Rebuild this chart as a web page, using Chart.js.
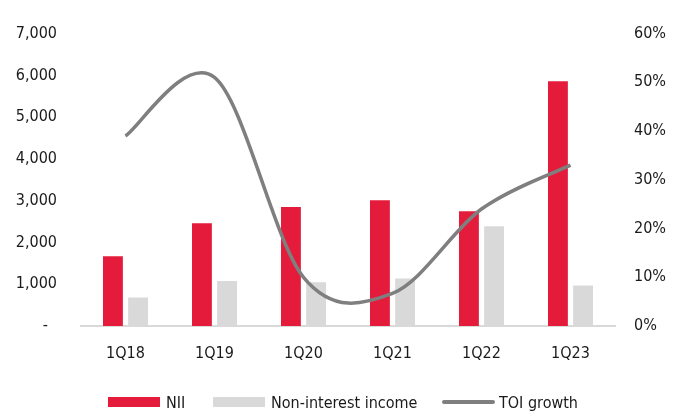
<!DOCTYPE html>
<html>
<head>
<meta charset="utf-8">
<script src="https://cdn.jsdelivr.net/npm/chart.js@4"></script>
<style>
  body { margin: 0; background: #fff; }
  #wrap { position: relative; width: 681px; height: 411px; }
  #legend { position: absolute; left: 0; top: 392px; width: 681px; height: 20px;
            font-family: 'DejaVu Sans Condensed', 'Liberation Sans Narrow', sans-serif; font-size: 16px; color: #1a1a1a; }
  .item { position: absolute; top: 0; height: 20px; display: flex; align-items: center; white-space: nowrap; }
  .box { width: 52px; height: 10px; }
  .ln { width: 53px; height: 4px; border-radius: 2px; }
  .txt { margin-left: 6px; }
</style>
</head>
<body>
<div id="wrap">
  <canvas id="c" width="681" height="411"></canvas>
  <div id="legend"></div>
</div>
<script>
// data
const quarters = ['1Q18', '1Q19', '1Q20', '1Q21', '1Q22', '1Q23'];
const nii = [1670, 2460, 2850, 3010, 2750, 5860];
const nonInterest = [680, 1080, 1050, 1140, 2390, 970];
const toiGrowth = [39, 51, 10, 6.7, 24, 33];

const FONT = "'DejaVu Sans Condensed', 'Liberation Sans Narrow', sans-serif";
const RED = '#e41b3a';
const LIGHT = '#d9d9d9';
const LINE = '#7f7f7f';

Chart.defaults.font.family = FONT;
Chart.defaults.font.size = 16;
Chart.defaults.color = '#1a1a1a';

// spreadsheet-style smoothing: uniform catmull-rom control points
// (chart.js weights tangents by distance, which kinks on steep drops)
const smoothPlugin = {
    id: 'smoothLine',
    beforeDatasetDraw(chart, args) {
        const meta = args.meta;
        if (meta.type !== 'line' || !meta.dataset) return;
        meta.dataset.updateControlPoints(chart.chartArea, 'x');
        const pts = meta.data;
        pts.forEach((p, i) => {
            const prev = pts[Math.max(i - 1, 0)];
            const next = pts[Math.min(i + 1, pts.length - 1)];
            const tx = (next.x - prev.x) / 6;
            const ty = (next.y - prev.y) / 6;
            p.cp1x = p.x - tx; p.cp1y = p.y - ty;
            p.cp2x = p.x + tx; p.cp2y = p.y + ty;
        });
        meta.dataset._path = undefined;
    }
};

const chart = new Chart(document.getElementById('c').getContext('2d'), {
    type: 'bar',
    data: {
        labels: quarters,
        datasets: [
            { type: 'line', label: 'TOI growth', data: toiGrowth, yAxisID: 'y1', borderColor: LINE, backgroundColor: LINE,
              borderWidth: 3.5, pointRadius: 0, tension: 0.4, order: 0 },
            { label: 'NII', data: nii, backgroundColor: RED, yAxisID: 'y', order: 1,
              categoryPercentage: 0.565, barPercentage: 0.79 },
            { label: 'Non-interest income', data: nonInterest, backgroundColor: LIGHT, yAxisID: 'y', order: 1,
              categoryPercentage: 0.565, barPercentage: 0.79 }
        ]
    },
    options: {
        responsive: false,
        animation: false,
        devicePixelRatio: 1,
        layout: { padding: { top: 33, left: 0, right: 0, bottom: 0 } },
        plugins: { legend: { display: false }, tooltip: { enabled: false } },
        scales: {
            x: {
                grid: { display: false, drawTicks: false },
                border: { display: true, color: LIGHT, width: 2 },
                ticks: { padding: 18 },
                afterFit: (s) => { s.height = 85; }
            },
            y: {
                position: 'left', min: 0, max: 7000,
                grid: { display: false, drawTicks: false },
                border: { display: false },
                ticks: { stepSize: 1000, padding: 24,
                         callback: (v) => v === 0 ? '-  ' : v.toLocaleString('en-US') },
                afterFit: (s) => { s.width = 81; }
            },
            y1: {
                position: 'right', min: 0, max: 60,
                grid: { display: false, drawTicks: false },
                border: { display: false },
                ticks: { stepSize: 10, padding: 19, callback: (v) => v + '%' },
                afterFit: (s) => { s.width = 66; }
            }
        }
    },
    plugins: [smoothPlugin]
});

// legend under the axis, placed like the reference
const legendItems = [
    { label: 'NII', color: RED, kind: 'box', left: 108 },
    { label: 'Non-interest income', color: LIGHT, kind: 'box', left: 213 },
    { label: 'TOI growth', color: LINE, kind: 'ln', left: 442 }
];
const lg = document.getElementById('legend');
legendItems.forEach(it => {
    const d = document.createElement('div');
    d.className = 'item';
    d.style.left = it.left + 'px';
    const sw = document.createElement('span');
    sw.className = it.kind;
    sw.style.background = it.color;
    const t = document.createElement('span');
    t.className = 'txt';
    if (it.kind === 'ln') t.style.marginLeft = '4px';
    t.textContent = it.label;
    d.appendChild(sw);
    d.appendChild(t);
    lg.appendChild(d);
});
</script>
</body>
</html>
